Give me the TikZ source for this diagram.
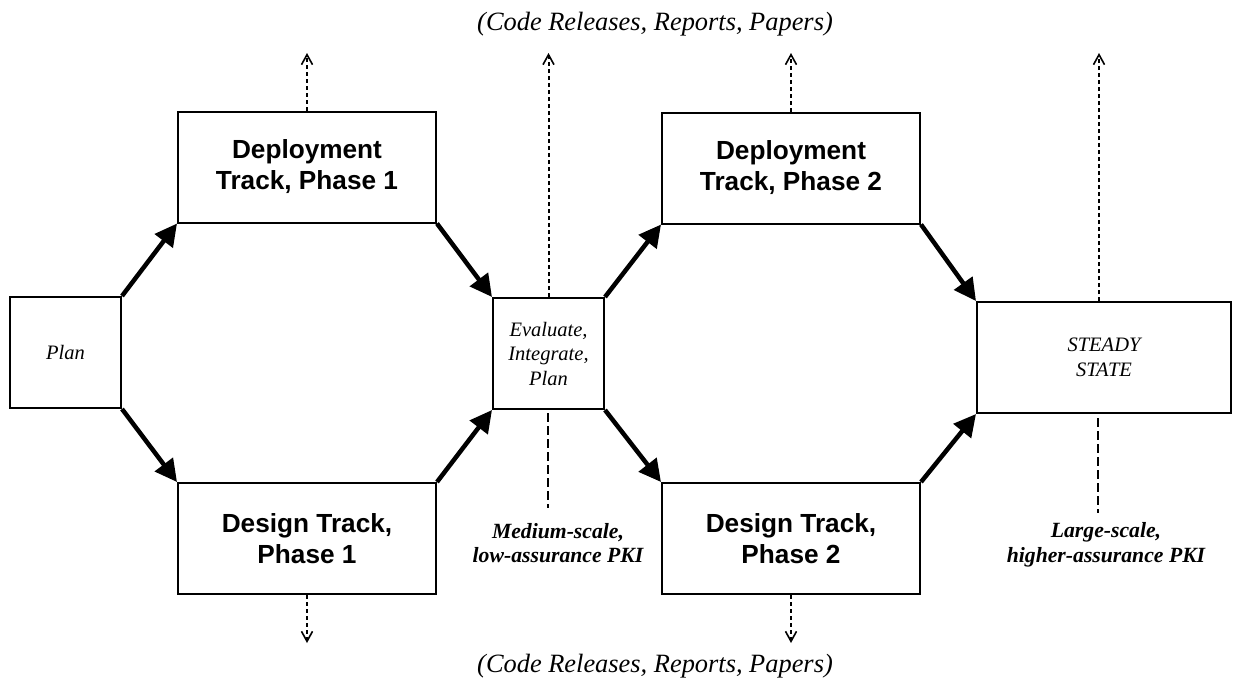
\documentclass[tikz,border=0pt]{standalone}
\usepackage{fontspec}
\setmainfont{Liberation Serif}
\setsansfont{Liberation Sans}
\usetikzlibrary{arrows.meta}
\begin{document}
\begin{tikzpicture}[x=1pt,y=-1pt,
  box/.style={draw, line width=2pt, inner sep=0pt, align=center},
  track/.style={box, minimum width=258pt, minimum height=111pt,
    font=\sffamily\bfseries\fontsize{26.2}{31}\selectfont},
  smallbox/.style={box, font=\itshape\fontsize{20.5}{24.5}\selectfont},
  flow/.style={line width=4.5pt, -{Triangle[length=22pt,width=22pt]}},
  outflow/.style={line width=2pt, dash pattern=on 4pt off 3pt,
    -{Straight Barb[length=10pt,width=11pt,line width=1.6pt]}},
  linkline/.style={line width=1.5pt, dash pattern=on 9pt off 4pt},
  note/.style={align=center, inner sep=0pt,
    font=\bfseries\itshape\fontsize{21.7}{24.5}\selectfont},
  caption/.style={inner sep=0pt, font=\itshape\fontsize{26.4}{30}\selectfont}]
\useasboundingbox (0,0) rectangle (1233,681);

% boxes
\node[smallbox, minimum width=111pt, minimum height=111pt] (plan) at (65.5,352.5) {Plan};
\node[track] (d1) at (307,167) {Deployment\\Track, Phase 1};
\node[track] (g1) at (307,538.5) {Design Track,\\Phase 1};
\node[smallbox, minimum width=111pt, minimum height=111pt] (eval) at (548.5,353.5) {Evaluate,\\Integrate,\\Plan};
\node[track] (d2) at (791,168) {Deployment\\Track, Phase 2};
\node[track] (g2) at (791,538.5) {Design Track,\\Phase 2};
\node[smallbox, minimum width=254pt, minimum height=111pt] (steady) at (1104,357.5) {STEADY\\STATE};

% captions and notes
\node[caption] (captop) at (655,24) {(Code Releases, Reports, Papers)};
\node[caption] (capbot) at (655,666) {(Code Releases, Reports, Papers)};
\node[note] (medium) at (558,543) {Medium-scale,\\low-assurance PKI};
\node[note] (large) at (1106,545) {Large-scale,\\higher-assurance PKI};

% flow arrows
\draw[flow] (plan.north east) -- (d1.south west);
\draw[flow] (plan.south east) -- (g1.north west);
\draw[flow] (d1.south east) -- (eval.north west);
\draw[flow] (g1.north east) -- (eval.south west);
\draw[flow] (eval.north east) -- (d2.south west);
\draw[flow] (eval.south east) -- (g2.north west);
\draw[flow] (d2.south east) -- (steady.north west);
\draw[flow] (g2.north east) -- (steady.south west);

% output arrows
\coordinate (o1) at (307,53);
\coordinate (o2) at (548.5,53);
\coordinate (o3) at (791,53);
\coordinate (o4) at (1099,53);
\coordinate (o5) at (307,643);
\coordinate (o6) at (791,643);
\draw[outflow] (d1.north) -- (o1);
\draw[outflow] (eval.north) -- (o2);
\draw[outflow] (d2.north) -- (o3);
\draw[outflow] (steady.north -| o4) -- (o4);
\draw[outflow] (g1.south) -- (o5);
\draw[outflow] (g2.south) -- (o6);

% links to notes
\coordinate (m0) at (548,413);
\coordinate (m1) at (548,508);
\coordinate (l0) at (1098,418);
\coordinate (l1) at (1098,513);
\draw[linkline] (m0) -- (m1);
\draw[linkline] (l0) -- (l1);
\end{tikzpicture}
\end{document}
